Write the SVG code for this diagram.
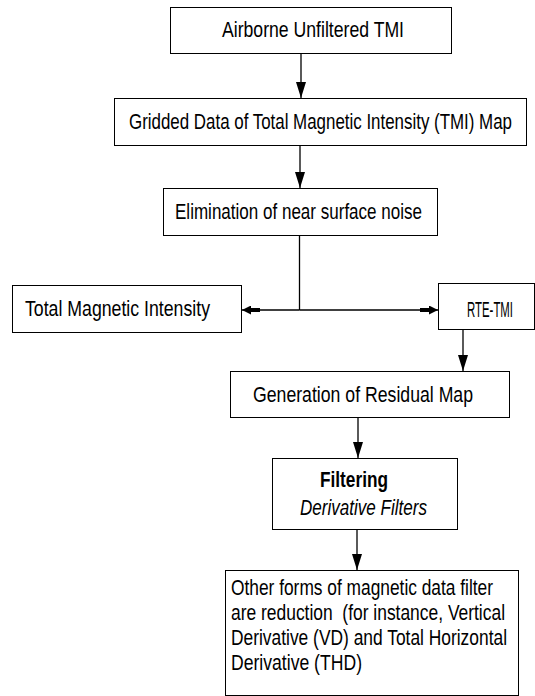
<svg xmlns="http://www.w3.org/2000/svg" width="535" height="696" viewBox="0 0 535 696">
<style>
.box{fill:#fff;stroke:#000;stroke-width:1}
.t{font-family:'Liberation Sans','Arial',sans-serif;font-size:22px;fill:#000}
.ln{stroke:#000;stroke-width:1.3;fill:none}
</style>
<defs>
<marker id="ah" viewBox="0 0 16 10" markerWidth="16" markerHeight="10" refX="16" refY="5" orient="auto" markerUnits="userSpaceOnUse"><path d="M0,0 L16,5 L0,10 Z" fill="#000"/></marker>
<marker id="th" viewBox="0 0 18 9" markerWidth="18" markerHeight="9" refX="18" refY="4.5" orient="auto" markerUnits="userSpaceOnUse"><path d="M18,4.5 L9,0 L9,2.5 L0,2.5 L0,6.5 L9,6.5 L9,9 Z" fill="#000"/></marker>
</defs>
<rect width="535" height="696" fill="#fff"/>
<g id="connectors">
<line class="ln" x1="301" y1="53" x2="301" y2="98" marker-end="url(#ah)"/>
<line class="ln" x1="300" y1="146" x2="300" y2="188" marker-end="url(#ah)"/>
<line class="ln" x1="299.5" y1="236" x2="299.5" y2="310"/>
<line class="ln" x1="299.5" y1="310" x2="242" y2="310" marker-end="url(#th)"/>
<line class="ln" x1="299.5" y1="310" x2="438" y2="310" marker-end="url(#th)"/>
<line class="ln" x1="463" y1="330" x2="463" y2="371" marker-end="url(#ah)"/>
<line class="ln" x1="358" y1="418" x2="358" y2="458" marker-end="url(#ah)"/>
<line class="ln" x1="357" y1="530" x2="357" y2="570" marker-end="url(#ah)"/>
</g>
<g id="n1"><rect class="box" x="170.5" y="7.5" width="281" height="46"/><text class="t" x="222" y="37" textLength="182" lengthAdjust="spacingAndGlyphs">Airborne Unfiltered TMI</text></g>
<g id="n2"><rect class="box" x="114.5" y="98.5" width="412" height="47"/><text class="t" x="129" y="129" textLength="383" lengthAdjust="spacingAndGlyphs">Gridded Data of Total Magnetic Intensity (TMI) Map</text></g>
<g id="n3"><rect class="box" x="163.5" y="188.5" width="274" height="47"/><text class="t" x="175" y="219" textLength="247" lengthAdjust="spacingAndGlyphs">Elimination of near surface noise</text></g>
<g id="n4"><rect class="box" x="12.5" y="285.5" width="229" height="47"/><text class="t" x="25" y="316" textLength="185" lengthAdjust="spacingAndGlyphs">Total Magnetic Intensity</text></g>
<g id="n5"><rect class="box" x="438.5" y="283.5" width="96" height="46"/><text class="t" x="467" y="317" font-size="21" textLength="46" lengthAdjust="spacingAndGlyphs">RTE-TMI</text></g>
<g id="n6"><rect class="box" x="230.5" y="371.5" width="279" height="46"/><text class="t" x="253" y="402" textLength="220" lengthAdjust="spacingAndGlyphs">Generation of Residual Map</text></g>
<g id="n7"><rect class="box" x="272.5" y="458.5" width="185" height="71"/><text class="t" x="320" y="487" font-weight="bold" textLength="68" lengthAdjust="spacingAndGlyphs">Filtering</text><text class="t" x="300" y="515" font-style="italic" textLength="127" lengthAdjust="spacingAndGlyphs">Derivative Filters</text></g>
<g id="n8"><rect class="box" x="225.5" y="570.5" width="293" height="125"/>
<text class="t" x="231" y="595" textLength="262" lengthAdjust="spacingAndGlyphs">Other forms of magnetic data filter</text>
<text class="t" x="231" y="620" textLength="274" lengthAdjust="spacingAndGlyphs" xml:space="preserve">are reduction  (for instance, Vertical</text>
<text class="t" x="231" y="645" textLength="276" lengthAdjust="spacingAndGlyphs">Derivative (VD) and Total Horizontal</text>
<text class="t" x="231" y="670" textLength="131" lengthAdjust="spacingAndGlyphs">Derivative (THD)</text></g>
</svg>
